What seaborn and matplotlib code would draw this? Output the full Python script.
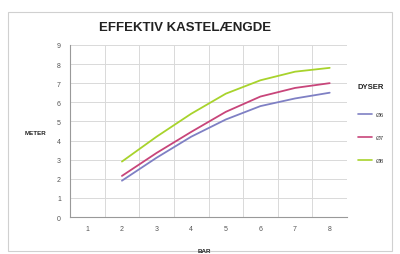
import pandas as pd
import seaborn as sns
import matplotlib.pyplot as plt
from matplotlib.lines import Line2D

# data
bar = [2, 3, 4, 5, 6, 7, 8]
d6 = [1.9, 3.1, 4.2, 5.1, 5.8, 6.2, 6.5]
d7 = [2.15, 3.35, 4.45, 5.5, 6.3, 6.75, 7.0]
d8 = [2.9, 4.2, 5.4, 6.45, 7.15, 7.6, 7.8]
names = ["Ø6", "Ø7", "Ø8"]
colors = ["#7f80c4", "#c8457a", "#a8d32c"]
categories = [1, 2, 3, 4, 5, 6, 7, 8]

df = pd.DataFrame({
    "bar": bar * 3,
    "meter": d6 + d7 + d8,
    "dyse": [n for n in names for _ in bar],
})

sns.set_style("white")
plt.rcParams["font.family"] = ["Liberation Sans", "DejaVu Sans"]

fig = plt.figure(figsize=(4, 2.55), dpi=100)
ax = fig.add_axes([0.175, 0.145, 0.6925, 0.675])

# outer chart border
fig.patches.append(plt.Rectangle((0.02, 0.01), 0.96, 0.94, transform=fig.transFigure,
                                 fill=False, edgecolor="#d0d0d0", linewidth=0.8))

sns.lineplot(data=df, x="bar", y="meter", hue="dyse", palette=colors,
             linewidth=1.3, legend=False, ax=ax)

ax.set_xlim(0.5, 8.5)
ax.set_ylim(0, 9)
ax.set_xticks(categories)
ax.set_xticks([c - 0.5 for c in categories] + [8.5], minor=True)
ax.set_yticks(range(10))
ax.grid(True, which="minor", axis="x", color="#d9d9d9", linewidth=0.7)
ax.grid(True, which="major", axis="y", color="#d9d9d9", linewidth=0.7)
ax.tick_params(axis="x", which="major", length=0, labelsize=5, pad=6, colors="#555555")
ax.tick_params(axis="x", which="minor", length=3, color="#999999")
ax.tick_params(axis="y", length=3, labelsize=5, colors="#555555", color="#999999")
for s in ["top", "right"]:
    ax.spines[s].set_visible(False)
for s in ["left", "bottom"]:
    ax.spines[s].set_color("#999999")
    ax.spines[s].set_linewidth(0.8)
ax.set_xlabel("")
ax.set_ylabel("")

fig.text(0.4625, 0.89, "EFFEKTIV KASTELÆNGDE", ha="center", va="center",
         fontsize=9.5, fontweight="bold", color="#222222")
fig.text(0.088, 0.478, "METER", ha="center", va="center", fontsize=4.5,
         fontweight="bold", color="#222222")
fig.text(0.51, 0.015, "BAR", ha="center", va="center", fontsize=4.5,
         fontweight="bold", color="#222222")

fig.text(0.895, 0.655, "DYSER", ha="left", va="center", fontsize=5.5,
         fontweight="bold", color="#222222")
for i, (n, c) in enumerate(zip(names, colors)):
    y = 0.548 - i * 0.09
    fig.add_artist(Line2D([0.895, 0.93], [y, y], color=c, linewidth=1.2,
                          transform=fig.transFigure))
    fig.text(0.94, y, n, ha="left", va="center", fontsize=4.5, color="#444444")

fig.savefig("out.png", dpi=100)
